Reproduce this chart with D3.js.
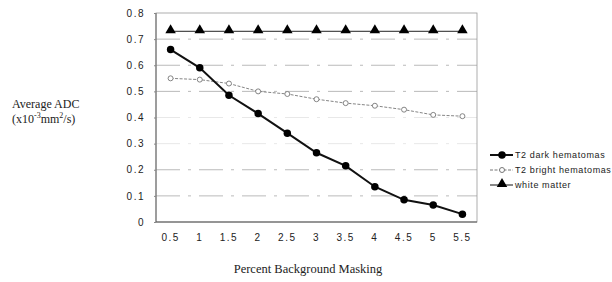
<!DOCTYPE html>
<html>
<head>
<meta charset="utf-8">
<script src="https://cdn.jsdelivr.net/npm/d3@7"></script>
<style>
  body { margin: 0; background: #fff; }
  svg { display: block; }
</style>
</head>
<body>
<div class="js-canvas"></div>
<script>
'use strict';

// data
const masking = ['0.5', '1', '1.5', '2', '2.5', '3', '3.5', '4', '4.5', '5', '5.5'];
const darkHematomas = [0.66, 0.59, 0.485, 0.415, 0.34, 0.265, 0.215, 0.135, 0.085, 0.065, 0.03];
const brightHematomas = [0.55, 0.545, 0.53, 0.50, 0.49, 0.47, 0.455, 0.445, 0.43, 0.41, 0.405];
const whiteMatter = [0.73, 0.73, 0.73, 0.73, 0.73, 0.73, 0.73, 0.73, 0.73, 0.73, 0.73];
const yTicks = [0, 0.1, 0.2, 0.3, 0.4, 0.5, 0.6, 0.7, 0.8];
const seriesNames = ['T2 dark hematomas', 'T2 bright hematomas', 'white  matter'];

const config = {
    width: 612,
    height: 282,
    margin: { top: 13, right: 135, bottom: 60, left: 156 }
};

const graphWidth = config.width - config.margin.left - config.margin.right;
const graphHeight = config.height - config.margin.top - config.margin.bottom;

const svg = d3.select('.js-canvas')
    .append('svg')
    .attr('width', config.width)
    .attr('height', config.height);

const graph = svg.append('g')
    .attr('transform', `translate(${config.margin.left}, ${config.margin.top})`);

const x = d3.scaleBand()
    .domain(masking)
    .range([0, graphWidth])
    .padding(0);

const y = d3.scaleLinear()
    .domain([0, 0.8])
    .range([graphHeight, 0]);

const cx = d => x(d) + x.bandwidth() / 2;

// broken dashed gridlines (faded like the scan)
graph.append('g')
    .selectAll('line')
    .data(yTicks.filter(t => t > 0 && t < 0.8))
    .enter()
    .append('line')
    .attr('x1', 0)
    .attr('x2', graphWidth)
    .attr('y1', d => y(d))
    .attr('y2', d => y(d))
    .attr('stroke', d => (d === 0.3 || d === 0.4) ? '#e2e2e2' : '#a8a8a8')
    .attr('stroke-width', 0.8)
    .attr('stroke-dasharray', '24,8,3,8');

// frame
graph.append('rect')
    .attr('width', graphWidth)
    .attr('height', graphHeight)
    .attr('fill', 'none')
    .attr('stroke', '#9a9a9a')
    .attr('stroke-width', 0.8);

graph.append('line')
    .attr('x1', 0).attr('x2', 0)
    .attr('y1', 0).attr('y2', graphHeight)
    .attr('stroke', '#777').attr('stroke-width', 1.2);

graph.append('line')
    .attr('x1', 0).attr('x2', graphWidth)
    .attr('y1', graphHeight).attr('y2', graphHeight)
    .attr('stroke', '#555').attr('stroke-width', 1.2);

// axes
const yAxis = d3.axisLeft(y)
    .tickValues(yTicks)
    .tickSize(2)
    .tickPadding(9)
    .tickFormat(d => d === 0 ? '0' : d3.format('.1f')(d));

const xAxis = d3.axisBottom(x)
    .tickSize(0)
    .tickPadding(12);

const yAxisGroup = graph.append('g').call(yAxis);
const xAxisGroup = graph.append('g')
    .attr('transform', `translate(0, ${graphHeight})`)
    .call(xAxis);

[yAxisGroup, xAxisGroup].forEach(g => {
    g.select('.domain').remove();
    g.selectAll('line').attr('stroke', '#888');
    g.selectAll('text')
        .attr('font-family', 'Liberation Sans, Arial, sans-serif')
        .attr('font-size', 10)
        .attr('letter-spacing', 1.5)
        .attr('fill', '#222');
});

// lines
const line = d3.line()
    .x((d, i) => cx(masking[i]))
    .y(d => y(d));

graph.append('path')
    .datum(whiteMatter)
    .attr('d', line)
    .attr('fill', 'none')
    .attr('stroke', '#222')
    .attr('stroke-width', 1);

graph.append('path')
    .datum(brightHematomas)
    .attr('d', line)
    .attr('fill', 'none')
    .attr('stroke', '#777')
    .attr('stroke-width', 0.9)
    .attr('stroke-dasharray', '3,1.5');

graph.append('path')
    .datum(darkHematomas)
    .attr('d', line)
    .attr('fill', 'none')
    .attr('stroke', '#111')
    .attr('stroke-width', 2);

// markers
const triangle = d3.symbol().type(d3.symbolTriangle).size(48);
const diamond = d3.symbol().type(d3.symbolCircle).size(44);

graph.append('g')
    .selectAll('path')
    .data(whiteMatter)
    .enter()
    .append('path')
    .attr('d', triangle)
    .attr('transform', (d, i) => `translate(${cx(masking[i])}, ${y(d) - 1})`)
    .attr('fill', '#000');

graph.append('g')
    .selectAll('circle')
    .data(brightHematomas)
    .enter()
    .append('circle')
    .attr('cx', (d, i) => cx(masking[i]))
    .attr('cy', d => y(d))
    .attr('r', 2.5)
    .attr('fill', '#fff')
    .attr('stroke', '#777')
    .attr('stroke-width', 0.9);

graph.append('g')
    .selectAll('path')
    .data(darkHematomas)
    .enter()
    .append('path')
    .attr('d', diamond)
    .attr('transform', (d, i) => `translate(${cx(masking[i])}, ${y(d)})`)
    .attr('fill', '#000');

// legend
const legend = svg.append('g')
    .attr('transform', 'translate(490, 155)');

const legendRows = legend.selectAll('g')
    .data(seriesNames)
    .enter()
    .append('g')
    .attr('transform', (d, i) => `translate(0, ${i * 15})`);

legendRows.append('line')
    .attr('x1', 0).attr('x2', 23)
    .attr('stroke', (d, i) => i === 1 ? '#777' : '#111')
    .attr('stroke-width', (d, i) => i === 0 ? 2 : 1)
    .attr('stroke-dasharray', (d, i) => i === 1 ? '3,1.5' : null);

legendRows.each(function (d, i) {
    const row = d3.select(this);
    if (i === 0) row.append('path').attr('d', diamond).attr('transform', 'translate(12,0)').attr('fill', '#000');
    if (i === 1) row.append('circle').attr('cx', 12).attr('r', 2.5).attr('fill', '#fff').attr('stroke', '#777');
    if (i === 2) row.append('path').attr('d', triangle).attr('transform', 'translate(12,-1)').attr('fill', '#000');
});

legendRows.append('text')
    .attr('x', 25)
    .attr('dy', '0.35em')
    .attr('font-family', 'Liberation Sans, Arial, sans-serif')
    .attr('font-size', 9)
    .attr('letter-spacing', 0.6)
    .attr('fill', '#222')
    .text(d => d);

// axis titles
const yTitle = svg.append('text')
    .attr('font-family', 'Liberation Serif, Times New Roman, serif')
    .attr('font-size', 12)
    .attr('fill', '#222');

yTitle.append('tspan').attr('x', 12).attr('y', 108).text('Average ADC');
yTitle.append('tspan').attr('x', 12).attr('y', 123).text('(x10');
yTitle.append('tspan').attr('font-size', 8).attr('dy', -5).text('-3');
yTitle.append('tspan').attr('dy', 5).text('mm');
yTitle.append('tspan').attr('font-size', 8).attr('dy', -5).text('2');
yTitle.append('tspan').attr('dy', 5).text('/s)');

svg.append('text')
    .attr('x', 308)
    .attr('y', 273)
    .attr('text-anchor', 'middle')
    .attr('font-family', 'Liberation Serif, Times New Roman, serif')
    .attr('font-size', 12.5)
    .attr('fill', '#222')
    .text('Percent Background Masking');
</script>
</body>
</html>
